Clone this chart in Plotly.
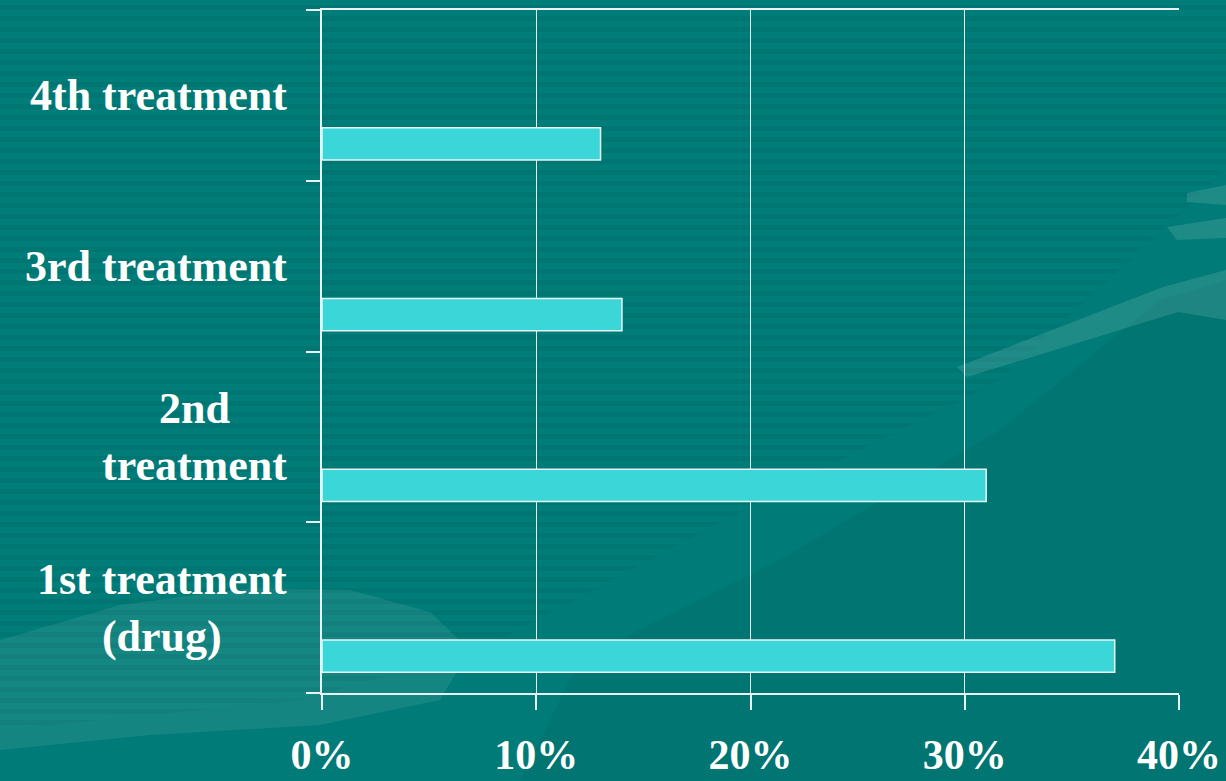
import plotly.graph_objects as go

categories = ["1st treatment<br>(drug)", "2nd<br>treatment", "3rd treatment", "4th treatment"]
values = [37, 31, 14, 13]
x_ticks = [0, 10, 20, 30, 40]
x_tick_labels = ["0%", "10%", "20%", "30%", "40%"]

W, H = 1226, 781
FONT = "Liberation Serif"
BG = "#017d79"

fig = go.Figure()
fig.add_trace(go.Bar(
    y=categories, x=values, orientation="h",
    marker=dict(color="#3ad6d8", line=dict(color="#e8f6f6", width=1.5)),
    width=0.188, offset=-0.378, hoverinfo="x+y",
))


def px(x, y):
    # pixel -> paper coordinates
    return (x - 322) / 857, (693 - y) / 683


def poly(pts, color):
    d = ""
    for k, (x, y) in enumerate(pts):
        a, b = px(x, y)
        d += ("M" if k == 0 else "L") + f"{a:.5f},{b:.5f} "
    d += "Z"
    return dict(type="path", xref="paper", yref="paper", layer="below", path=d,
                fillcolor=color, line=dict(width=0))


shapes = []
period = 11
for i in range(0, H // period + 2):
    y0 = i * period + 5
    a0, b0 = px(0, y0)
    a1, b1 = px(W, y0 + 5)
    shapes.append(dict(type="rect", xref="paper", yref="paper", layer="below",
                       x0=a0, x1=a1, y0=b1, y1=b0,
                       line=dict(width=0), fillcolor="#007672"))

# area where the stripes fade out (lower right)
shapes.append(poly([(0, 730), (300, 700), (480, 650), (800, 480), (1000, 380), (1226, 170),
                    (1226, 781), (0, 781)], "#017b77"))
# darker diagonal band
shapes.append(poly([(520, 781), (580, 660), (780, 560), (1000, 430), (1160, 300), (1226, 280),
                    (1226, 781)], "rgba(0,40,40,0.07)"))
# lighter swooshes
shapes.append(poly([(0, 640), (120, 605), (250, 588), (350, 590), (430, 612), (470, 650),
                    (440, 700), (320, 725), (150, 735), (0, 750)], "rgba(255,255,255,0.08)"))
shapes.append(poly([(957, 367), (1163, 287), (1226, 270), (1226, 320), (1178, 312), (967, 377)],
                   "rgba(255,255,255,0.12)"))
shapes.append(poly([(1187, 193), (1226, 185), (1226, 205), (1187, 202)], "rgba(255,255,255,0.12)"))
shapes.append(poly([(1167, 227), (1226, 218), (1226, 238), (1177, 240)], "rgba(255,255,255,0.12)"))

annotations = []
for c in categories:
    annotations.append(dict(text=c, xref="paper", yref="y", x=-33 / 857, y=c,
                            xanchor="right", yanchor="middle", align="center",
                            showarrow=False,
                            font=dict(family=FONT, size=44, color="white", weight="bold")))

fig.update_layout(
    width=W, height=H,
    margin=dict(l=322, r=47, t=10, b=88, pad=0, autoexpand=False),
    paper_bgcolor=BG, plot_bgcolor="rgba(0,0,0,0)",
    showlegend=False,
    shapes=shapes, annotations=annotations,
    xaxis=dict(range=[0, 40], tickvals=x_ticks, ticktext=x_tick_labels,
               automargin=False,
               showgrid=True, gridcolor="#e8f4f4", gridwidth=1,
               showline=True, linecolor="#e8f4f4", linewidth=1.5, mirror=True,
               ticks="outside", ticklen=15, tickcolor="#e8f4f4", tickwidth=1.5,
               ticklabelstandoff=9, zeroline=False,
               tickfont=dict(family=FONT, size=42, color="white", weight="bold")),
    yaxis=dict(categoryorder="array", categoryarray=categories, range=[-0.5, 3.5],
               automargin=False,
               showticklabels=False, showgrid=False,
               showline=True, linecolor="#e8f4f4", linewidth=1.5,
               tickson="boundaries", ticks="outside", ticklen=14,
               tickcolor="#e8f4f4", tickwidth=1.5, zeroline=False),
)

fig.write_html("out.html")
